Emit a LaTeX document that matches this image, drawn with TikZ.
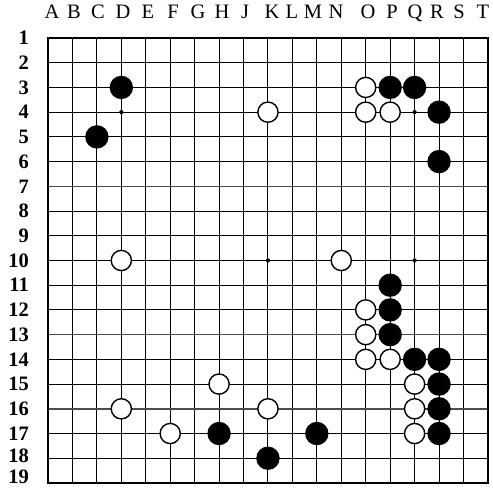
\documentclass[tikz,border=0pt]{standalone}
\usepackage{fontspec}
\setmainfont{Liberation Serif}
\tikzset{
  gridline/.style={line width=1.05pt, black},
  foldline/.style={line width=1.4pt, black!70},
  boardedge/.style={line width=1.6pt, black},
  blackstone/.style={circle, fill=black, draw=none, minimum size=23.4pt, inner sep=0pt},
  whitestone/.style={circle, fill=white, draw=black, line width=1.4pt, minimum size=20.2pt, inner sep=0pt},
  hoshi/.style={circle, fill=black, minimum size=4.2pt, inner sep=0pt},
  collabel/.style={anchor=base, inner sep=0pt, font=\fontsize{20.5}{20.5}\selectfont},
  rowlabel/.style={anchor=east, inner sep=0pt, font=\fontsize{20.5}{20.5}\selectfont\bfseries}
}
\begin{document}
\begin{tikzpicture}[x=1pt,y=1pt]
\useasboundingbox (0,0) rectangle (493,-492);
\fill[white] (0,0) rectangle (493,-492);
% column letters
\foreach \l/\xx in {A/52,B/74,C/98,D/123,E/148,F/173,G/198,H/222,J/245,K/272,L/292,M/313,N/336,O/368,P/392,Q/415,R/437,S/459,T/483}{
  \node[collabel] (col\l) at (\xx,-18.5) {\l};
}
% row numbers
\foreach \r in {1,...,17}{
  \node[rowlabel] (row\r) at (29,{-38-24.72*(\r-1)}) {\r};
}
\node[rowlabel] (row18) at (29,-456) {18};
\node[rowlabel] (row19) at (29,-477) {19};
\begin{scope}[shift={(48,-38)}, x=24.44pt, y=-24.72pt]
  \foreach \i in {1,...,17}{
    \draw[gridline] (\i,0) -- (\i,18);
  }
  \foreach \i in {1,2,3,4,5,7,8,9,10,11,13,14,16,17}{
    \draw[gridline] (0,\i) -- (18,\i);
  }
  \foreach \i in {6,12,15}{
    \draw[foldline] (0,\i) -- (18,\i);
  }
  \draw[boardedge] (0,0) rectangle (18,18);
  % star points
  \foreach \c/\r [count=\k] in {3/3,9/3,15/3,3/9,9/9,15/9,3/15,9/15,15/15}{
    \node[hoshi] (hoshi\k) at (\c,\r) {};
  }
  % black stones (column index, row index from 0)
  \foreach \n/\c/\r in {D3/3/2, P3/14/2, Q3/15/2, R4/16/3, C5/2/4, R6/16/5,
     P11/14/10, P12/14/11, P13/14/12, Q14/15/13, R14/16/13, R15/16/14,
     R16/16/15, H17/7/16, M17/11/16, R17/16/16, K18/9/17}{
    \node[blackstone] (\n) at (\c,\r) {};
  }
  % white stones
  \foreach \n/\c/\r in {O3/13/2, K4/9/3, O4/13/3, P4/14/3, D10/3/9, N10/12/9,
     O12/13/11, O13/13/12, O14/13/13, P14/14/13, H15/7/14, Q15/15/14,
     D16/3/15, K16/9/15, Q16/15/15, F17/5/16, Q17/15/16}{
    \node[whitestone] (\n) at (\c,\r) {};
  }
\end{scope}
\end{tikzpicture}
\end{document}
